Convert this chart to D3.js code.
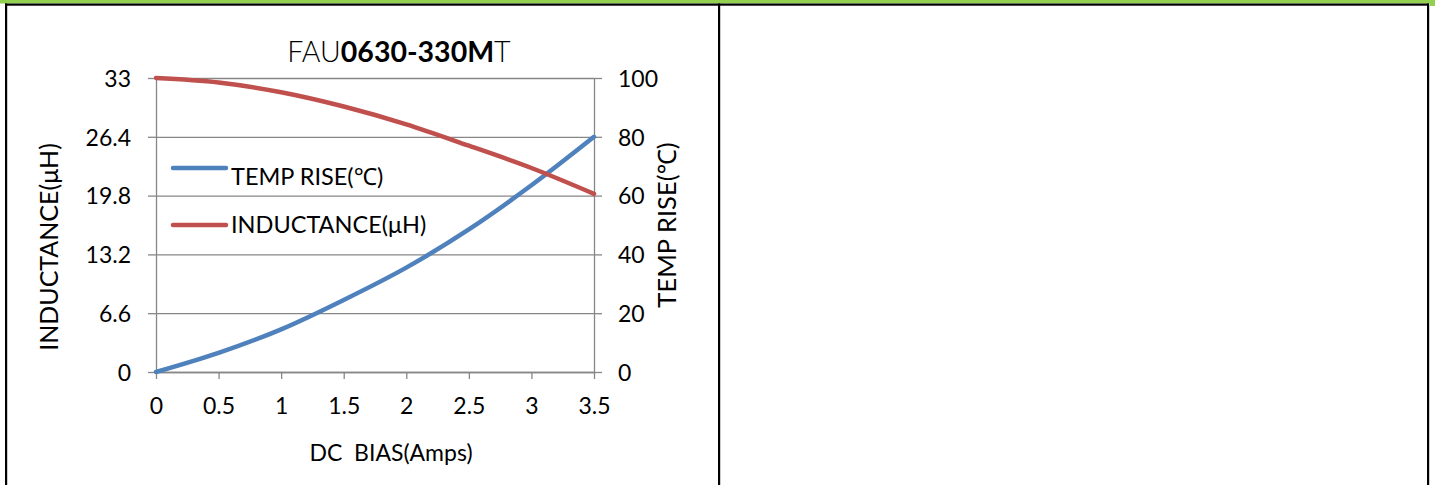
<!DOCTYPE html>
<html>
<head>
<meta charset="utf-8">
<script src="https://cdn.jsdelivr.net/npm/d3@7"></script>
<style>
  html, body { margin: 0; padding: 0; background: #fff; }
  svg { display: block; font-family: Lato, "Noto Sans", sans-serif; }
  .grid line { stroke: #878787; stroke-width: 1.3; }
  .axis path, .axis line { stroke: #878787; stroke-width: 1.3; }
  .axis text { fill: #000; font-size: 23px; font-family: Lato, "Noto Sans", sans-serif; }
</style>
</head>
<body>
<div id="chart"></div>
<script>
// Chart data
const dcBias = [0, 0.5, 1, 1.5, 2, 2.5, 3, 3.5];
const inductance = [33, 32.5, 31.4, 29.8, 27.8, 25.4, 22.9, 20.0];
const tempRise = [0, 6.5, 14.5, 24.5, 35.5, 48.5, 63.5, 80];

// Tick values / labels
const xTicks = [0, 0.5, 1, 1.5, 2, 2.5, 3, 3.5];
const leftTicks = [0, 6.6, 13.2, 19.8, 26.4, 33];
const rightTicks = [0, 20, 40, 60, 80, 100];

const seriesNames = ["TEMP RISE(℃)", "INDUCTANCE(μH)"];
const seriesColors = ["#4f81bd", "#c0504d"];

const width = 1435, height = 485;

// Plot area in page pixels
const plot = { left: 156, right: 594, top: 78, bottom: 372 };

const svg = d3.select("#chart")
  .append("svg")
  .attr("width", width)
  .attr("height", height);

// Page frame: green top strip and black table borders
svg.append("rect").attr("x", 0).attr("y", 0).attr("width", width).attr("height", 3.5).attr("fill", "#92d050");
svg.append("rect").attr("x", 1430).attr("y", 0).attr("width", 5).attr("height", 6).attr("fill", "#92d050");
svg.append("rect").attr("x", 5).attr("y", 3.5).attr("width", 1424).attr("height", 2.2).attr("fill", "#000");
[5, 718, 1427].forEach(x => {
  svg.append("rect").attr("x", x).attr("y", 3.5).attr("width", 2.2).attr("height", height).attr("fill", "#000");
});

// Scales
const x = d3.scaleLinear().domain([0, 3.5]).range([plot.left, plot.right]);
const yLeft = d3.scaleLinear().domain([0, 33]).range([plot.bottom, plot.top]);
const yRight = d3.scaleLinear().domain([0, 100]).range([plot.bottom, plot.top]);

const fmt = d => String(+d.toFixed(1));

// Horizontal gridlines
svg.append("g")
  .attr("class", "grid")
  .attr("transform", `translate(${plot.left},0)`)
  .call(d3.axisLeft(yLeft).tickValues(leftTicks).tickSize(-(plot.right - plot.left)).tickFormat(""))
  .call(g => g.select(".domain").remove());

// Left axis
svg.append("g")
  .attr("class", "axis")
  .attr("transform", `translate(${plot.left},0)`)
  .call(d3.axisLeft(yLeft).tickValues(leftTicks).tickSize(8).tickSizeOuter(0).tickPadding(17).tickFormat(fmt))
  .call(g => g.selectAll("text").attr("dy", "0.36em"));

// Right axis
svg.append("g")
  .attr("class", "axis")
  .attr("transform", `translate(${plot.right},0)`)
  .call(d3.axisRight(yRight).tickValues(rightTicks).tickSize(8).tickSizeOuter(0).tickPadding(16).tickFormat(d3.format("d")))
  .call(g => g.selectAll("text").attr("dy", "0.36em"));

// Bottom axis
svg.append("g")
  .attr("class", "axis")
  .attr("transform", `translate(0,${plot.bottom})`)
  .call(d3.axisBottom(x).tickValues(xTicks).tickSize(7).tickSizeOuter(0).tickPadding(19).tickFormat(fmt));

// Series lines
const lineTemp = d3.line()
  .x((d, i) => x(dcBias[i]))
  .y(d => yRight(d))
  .curve(d3.curveCatmullRom.alpha(0.5));

const lineInd = d3.line()
  .x((d, i) => x(dcBias[i]))
  .y(d => yLeft(d))
  .curve(d3.curveCatmullRom.alpha(0.5));

svg.append("path")
  .datum(tempRise)
  .attr("d", lineTemp)
  .attr("fill", "none")
  .attr("stroke", seriesColors[0])
  .attr("stroke-width", 4.5)
  .attr("stroke-linecap", "round");

svg.append("path")
  .datum(inductance)
  .attr("d", lineInd)
  .attr("fill", "none")
  .attr("stroke", seriesColors[1])
  .attr("stroke-width", 4.5)
  .attr("stroke-linecap", "round");

// Legend
const legendRows = [
  { lineY: 168, textY: 185 },
  { lineY: 225, textY: 233 }
];
legendRows.forEach((row, i) => {
  svg.append("line")
    .attr("x1", 173).attr("x2", 226)
    .attr("y1", row.lineY).attr("y2", row.lineY)
    .attr("stroke", seriesColors[i])
    .attr("stroke-width", 4.5)
    .attr("stroke-linecap", "round");
  svg.append("text")
    .attr("x", 231).attr("y", row.textY)
    .attr("font-size", 23.5)
    .text(seriesNames[i]);
});

// Title (thin / bold / thin)
const title = svg.append("text")
  .attr("x", 399).attr("y", 62)
  .attr("text-anchor", "middle")
  .attr("font-size", 28.5);
title.append("tspan").attr("font-weight", 300).text("FAU");
title.append("tspan").attr("font-weight", "bold").text("0630-330M");
title.append("tspan").attr("font-weight", 300).text("T");

// Axis titles
svg.append("text")
  .attr("transform", "translate(58,247) rotate(-90)")
  .attr("text-anchor", "middle")
  .attr("font-size", 25)
  .text("INDUCTANCE(μH)");

svg.append("text")
  .attr("transform", "translate(676,225) rotate(-90)")
  .attr("text-anchor", "middle")
  .attr("font-size", 25.5)
  .text("TEMP RISE(℃)");

svg.append("text")
  .attr("x", 391).attr("y", 461)
  .attr("text-anchor", "middle")
  .attr("font-size", 23)
  .style("white-space", "pre")
  .text("DC  BIAS(Amps)");
</script>
</body>
</html>
